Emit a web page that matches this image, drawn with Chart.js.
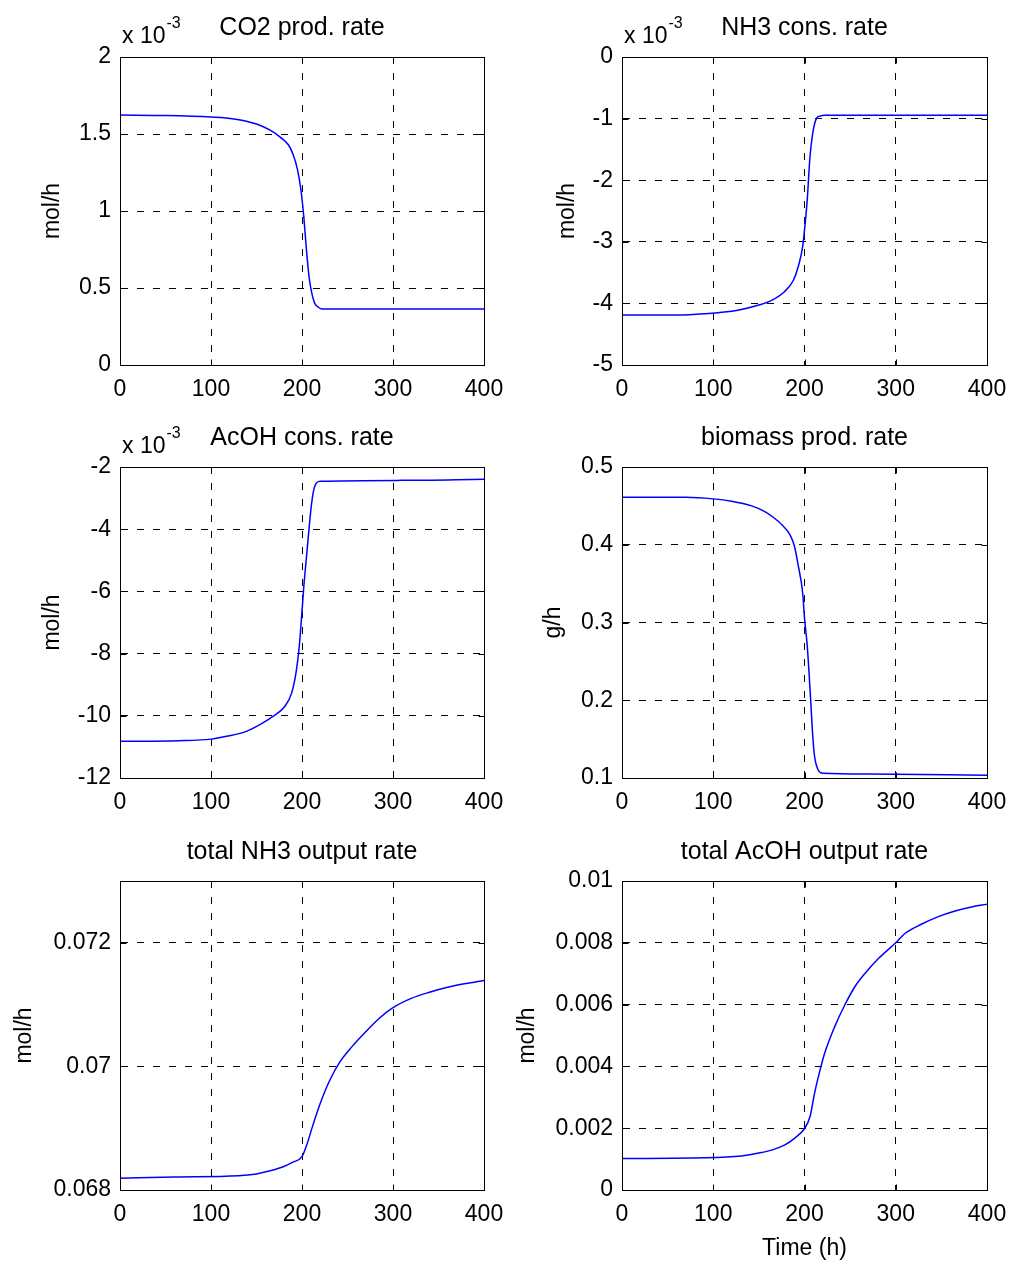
<!DOCTYPE html>
<html>
<head>
<meta charset="utf-8">
<script src="https://cdn.jsdelivr.net/npm/chart.js@4/dist/chart.umd.min.js"></script>
<style>
  html, body { margin: 0; padding: 0; background: #fff; }
  #fig { position: relative; width: 1011px; height: 1266px; overflow: hidden; }
  #fig canvas { position: absolute; }
</style>
</head>
<body>
<div id="fig"></div>
<script>
// time axis shared by every panel
const xTicks = [0, 100, 200, 300, 400];

// CO2 production rate (x 10^-3 mol/h)
const co2Time = [0, 50, 100, 125, 150, 165, 176, 185, 190, 195, 199, 202, 205, 208, 211, 214, 218, 222, 300, 400];
const co2Rate = [1.623, 1.62, 1.61, 1.598, 1.565, 1.525, 1.48, 1.43, 1.37, 1.27, 1.13, 0.96, 0.74, 0.56, 0.46, 0.40, 0.375, 0.364, 0.364, 0.364];
const co2Ticks = [0, 0.5, 1, 1.5, 2];
const co2Labels = ['0', '0.5', '1', '1.5', '2'];

// NH3 consumption rate (x 10^-3 mol/h)
const nh3Time = [0, 60, 90, 127, 149, 164, 178, 188, 193, 198, 200, 203, 206, 209, 213, 217, 222, 300, 400];
const nh3Rate = [-4.19, -4.19, -4.17, -4.11, -4.03, -3.95, -3.81, -3.62, -3.41, -3.08, -2.81, -2.32, -1.62, -1.24, -1.0, -0.96, -0.946, -0.946, -0.946];
const nh3Ticks = [-5, -4, -3, -2, -1, 0];
const nh3Labels = ['-5', '-4', '-3', '-2', '-1', '0'];

// AcOH consumption rate (x 10^-3 mol/h)
const acohTime = [0, 64, 100, 117, 139, 157, 168, 181, 188.6, 193.4, 197, 199.6, 202, 205, 208, 210.6, 214, 220, 310, 400];
const acohRate = [-10.82, -10.80, -10.75, -10.66, -10.5, -10.23, -10.02, -9.7, -9.27, -8.62, -7.77, -6.8, -5.84, -4.87, -3.9, -3.16, -2.62, -2.46, -2.43, -2.39];
const acohTicks = [-12, -10, -8, -6, -4, -2];
const acohLabels = ['-12', '-10', '-8', '-6', '-4', '-2'];

// biomass production rate (g/h)
const bioTime = [0, 70, 100, 120, 142, 156, 165, 175, 184, 189, 193, 198, 200, 203, 205, 207, 209, 211, 214, 220, 270, 400];
const bioRate = [0.461, 0.461, 0.459, 0.456, 0.450, 0.443, 0.436, 0.426, 0.413, 0.398, 0.374, 0.338, 0.306, 0.27, 0.235, 0.195, 0.155, 0.128, 0.113, 0.106, 0.105, 0.1035];
const bioTicks = [0.1, 0.2, 0.3, 0.4, 0.5];
const bioLabels = ['0.1', '0.2', '0.3', '0.4', '0.5'];

// total NH3 output rate (mol/h)
const nh3OutTime = [0, 60, 130, 150, 165, 180, 190, 200, 205, 212, 220, 230, 242, 255, 270, 285, 300, 320, 340, 360, 380, 400];
const nh3OutRate = [0.06819, 0.06821, 0.06823, 0.06826, 0.06831, 0.06838, 0.06845, 0.06854, 0.06872, 0.06905, 0.0694, 0.06976, 0.07008, 0.07032, 0.07056, 0.07078, 0.07095, 0.0711, 0.0712, 0.07128, 0.07134, 0.07139];
const nh3OutTicks = [0.068, 0.07, 0.072];
const nh3OutLabels = ['0.068', '0.07', '0.072'];

// total AcOH output rate (mol/h)
const acohOutTime = [0, 90, 131, 149, 164, 178, 189, 200, 206, 211, 217, 222, 233, 244, 255, 266, 281, 300, 310, 328, 346, 365, 383, 400];
const acohOutRate = [0.00102, 0.00104, 0.0011, 0.00119, 0.00129, 0.00145, 0.00167, 0.00199, 0.00237, 0.00313, 0.00388, 0.00442, 0.00528, 0.00598, 0.00657, 0.007, 0.00749, 0.008, 0.0083, 0.0086, 0.00884, 0.00903, 0.00916, 0.00925];
const acohOutTicks = [0, 0.002, 0.004, 0.006, 0.008, 0.01];
const acohOutLabels = ['0', '0.002', '0.004', '0.006', '0.008', '0.01'];

const FONT = 'Liberation Sans, Arial, Helvetica, sans-serif';
Chart.defaults.font.family = FONT;
Chart.defaults.color = '#000';

// grid cells of the figure: [left, width] and [top, height]
const cols = [[0, 540], [505, 540]];
const rows = [[0, 410], [410, 415], [825, 441]];

const panels = [
    { title: 'CO2 prod. rate', ylabel: 'mol/h', t: co2Time, v: co2Rate, ticks: co2Ticks, labels: co2Labels, min: 0, max: 2, exp: '-3',
      col: 0, row: 0, box: [120, 57, 484, 365], ylabelX: 53 },
    { title: 'NH3 cons. rate', ylabel: 'mol/h', t: nh3Time, v: nh3Rate, ticks: nh3Ticks, labels: nh3Labels, min: -5, max: 0, exp: '-3',
      col: 1, row: 0, box: [622, 57, 987, 365], ylabelX: 568 },
    { title: 'AcOH cons. rate', ylabel: 'mol/h', t: acohTime, v: acohRate, ticks: acohTicks, labels: acohLabels, min: -12, max: -2, exp: '-3',
      col: 0, row: 1, box: [120, 467, 484, 778], ylabelX: 53 },
    { title: 'biomass prod. rate', ylabel: 'g/h', t: bioTime, v: bioRate, ticks: bioTicks, labels: bioLabels, min: 0.1, max: 0.5,
      col: 1, row: 1, box: [622, 467, 987, 778], ylabelX: 554 },
    { title: 'total NH3 output rate', ylabel: 'mol/h', t: nh3OutTime, v: nh3OutRate, ticks: nh3OutTicks, labels: nh3OutLabels, min: 0.068, max: 0.073,
      col: 0, row: 2, box: [120, 881, 484, 1190], ylabelX: 25 },
    { title: 'total AcOH output rate', ylabel: 'mol/h', t: acohOutTime, v: acohOutRate, ticks: acohOutTicks, labels: acohOutLabels, min: 0, max: 0.01,
      col: 1, row: 2, box: [622, 881, 987, 1190], ylabelX: 528, xlabel: 'Time (h)' }
];

// box, inward tick marks and the "x 10^-3" multiplier, MATLAB style
const matlabBox = {
    id: 'matlabBox',
    afterDraw(chart, args, opts) {
        const { ctx, chartArea: a, scales: { x, y } } = chart;
        const L = Math.round(a.left) + 0.5, R = Math.round(a.right) + 0.5;
        const T = Math.round(a.top) + 0.5, B = Math.round(a.bottom) + 0.5;
        ctx.save();
        ctx.strokeStyle = '#000';
        ctx.lineWidth = 1;
        ctx.setLineDash([]);
        ctx.strokeRect(L, T, R - L, B - T);
        ctx.beginPath();
        x.ticks.forEach(t => {
            const px = Math.round(x.getPixelForValue(t.value)) + 0.5;
            ctx.moveTo(px, B); ctx.lineTo(px, B - 6);
            ctx.moveTo(px, T); ctx.lineTo(px, T + 6);
        });
        y.ticks.forEach(t => {
            const py = Math.round(y.getPixelForValue(t.value)) + 0.5;
            ctx.moveTo(L, py); ctx.lineTo(L + 6, py);
            ctx.moveTo(R, py); ctx.lineTo(R - 6, py);
        });
        ctx.stroke();
        if (opts.exponent) {
            ctx.fillStyle = '#000';
            ctx.textAlign = 'left';
            ctx.textBaseline = 'alphabetic';
            ctx.font = '23px ' + FONT;
            ctx.fillText('x 10', a.left + 2, a.top - 14);
            const w = ctx.measureText('x 10').width;
            ctx.font = '16px ' + FONT;
            ctx.fillText(opts.exponent, a.left + 3 + w, a.top - 29);
        }
        ctx.restore();
    }
};

const fig = document.getElementById('fig');

panels.forEach(p => {
    const [cl, cw] = cols[p.col];
    const [rt, rh] = rows[p.row];
    const [bl, bt, br, bb] = p.box;

    const canvas = document.createElement('canvas');
    canvas.width = cw;
    canvas.height = rh;
    canvas.style.left = cl + 'px';
    canvas.style.top = rt + 'px';
    canvas.style.width = cw + 'px';
    canvas.style.height = rh + 'px';
    fig.appendChild(canvas);

    const titleSize = 25, titleLH = titleSize * 1.2;
    const titleCenter = 28 - (p.row === 2 ? 1 : 0);
    const titlePadTop = titleCenter - titleLH / 2;
    const titlePadBottom = (bt - rt) - titlePadTop - titleLH;
    const axisSize = 23, axisLH = axisSize * 1.2;

    new Chart(canvas.getContext('2d'), {
        type: 'line',
        data: {
            datasets: [{
                data: p.t.map((t, i) => ({ x: t, y: p.v[i] })),
                borderColor: '#0000ff',
                borderWidth: 1.5,
                pointRadius: 0,
                cubicInterpolationMode: 'monotone',
                fill: false
            }]
        },
        options: {
            responsive: false,
            animation: false,
            devicePixelRatio: 1,
            layout: { padding: { left: 0, top: 0, right: cl + cw - br, bottom: 0 } },
            plugins: {
                legend: { display: false },
                tooltip: { enabled: false },
                title: {
                    display: true,
                    text: p.title,
                    fullSize: false,
                    font: { size: titleSize, weight: 'normal' },
                    padding: { top: titlePadTop, bottom: titlePadBottom }
                },
                matlabBox: { exponent: p.exp }
            },
            scales: {
                x: {
                    type: 'linear',
                    min: 0,
                    max: 400,
                    afterBuildTicks: s => { s.ticks = xTicks.map(v => ({ value: v })); },
                    afterFit: s => { s.height = rt + rh - bb; },
                    grid: { color: '#000', lineWidth: 1, drawTicks: false },
                    border: { display: true, color: '#000', dash: [7, 9] },
                    ticks: { font: { size: axisSize }, padding: 11, maxRotation: 0,
                             callback: v => String(v) },
                    title: {
                        display: !!p.xlabel,
                        text: p.xlabel || '',
                        font: { size: axisSize },
                        padding: { top: 0, bottom: (rt + rh - 1249) - axisLH / 2 }
                    }
                },
                y: {
                    type: 'linear',
                    min: p.min,
                    max: p.max,
                    afterBuildTicks: s => { s.ticks = p.ticks.map(v => ({ value: v })); },
                    afterFit: s => { s.width = bl - cl; },
                    grid: { color: '#000', lineWidth: 1, drawTicks: false },
                    border: { display: true, color: '#000', dash: [7, 9] },
                    ticks: { font: { size: axisSize }, padding: 9,
                             callback: (v, i) => p.labels[i] },
                    title: {
                        display: true,
                        text: p.ylabel,
                        font: { size: axisSize },
                        padding: { top: p.ylabelX - cl - axisLH / 2, bottom: 0 }
                    }
                }
            }
        },
        plugins: [matlabBox]
    });
});
</script>
</body>
</html>
